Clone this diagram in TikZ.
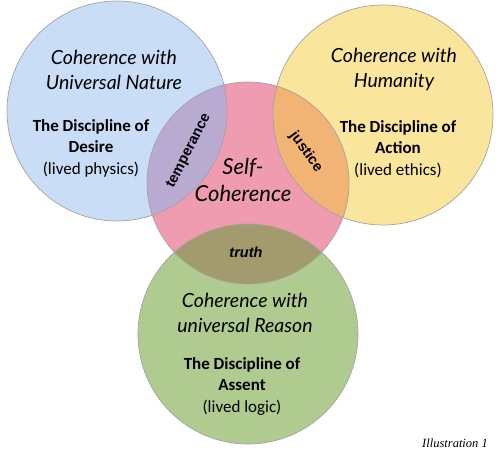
\documentclass[tikz,border=0pt]{standalone}
\usepackage{fontspec}
\setmainfont{Carlito}
\newfontfamily\handf{Lato}
\newfontfamily\arialf{Liberation Sans}
\newfontfamily\timesf{Liberation Serif}
\definecolor{bluef}{HTML}{C9DEF6}
\definecolor{pinkf}{HTML}{EF9BB0}
\definecolor{yellowf}{HTML}{FAE59C}
\definecolor{greenf}{HTML}{B0CB90}
\definecolor{purplef}{HTML}{B9AAD1}
\definecolor{orangef}{HTML}{F1B475}
\definecolor{olivef}{HTML}{A39B6E}
\definecolor{edgec}{HTML}{A3A3A3}
\tikzset{
  ring/.style={draw=edgec, line width=0.7pt},
  hand/.style={font=\handf\itshape\fontsize{19.5}{25}\selectfont, align=center, inner sep=0pt},
  self/.style={font=\handf\itshape\fontsize{22}{27}\selectfont, align=center, inner sep=0pt},
  disc/.style={font=\fontsize{17}{21.5}\selectfont, align=center, inner sep=0pt},
  virtue/.style={font=\arialf\bfseries\fontsize{14.5}{16}\selectfont, inner sep=0pt},
}
\begin{document}
\begin{tikzpicture}[x=1pt,y=-1pt]
\useasboundingbox (0,0) rectangle (500,470);
\coordinate (cb) at (117,111);
\coordinate (cy) at (383,115);
\coordinate (cp) at (248,183);
\coordinate (cg) at (248,334);
% fills
\fill[bluef] (cb) circle[radius=110pt];
\fill[yellowf] (cy) circle[radius=110pt];
\fill[greenf] (cg) circle[radius=110pt];
\fill[pinkf] (cp) circle[radius=101pt];
\begin{scope}
  \clip (cp) circle[radius=101pt];
  \fill[purplef] (cb) circle[radius=110pt];
  \fill[orangef] (cy) circle[radius=110pt];
  \fill[olivef] (cg) circle[radius=110pt];
\end{scope}
% outlines
\draw[ring] (cb) circle[radius=110pt];
\draw[ring] (cy) circle[radius=110pt];
\draw[ring] (cg) circle[radius=110pt];
\draw[ring] (cp) circle[radius=101pt];
% texts
\node[hand] (bt) at (114,70) {Coherence with\\Universal Nature};
\node[disc] (bd) at (91,148) {\textbf{The Discipline of}\\\textbf{Desire}\\(lived physics)};
\node[hand] (yt) at (394,69) {Coherence with\\Humanity};
\node[disc] (yd) at (398,149) {\textbf{The Discipline of}\\\textbf{Action}\\(lived ethics)};
\node[hand] (gt) at (245,313) {Coherence with\\universal Reason};
\node[disc] (gd) at (242,386) {\textbf{The Discipline of}\\\textbf{Assent}\\(lived logic)};
\node[self] (st) at (243,180) {Self-\\Coherence};
\node[virtue, rotate=63] (tv) at (189,151) {temperance};
\node[virtue, rotate=-54] (jv) at (306,152) {justice};
\node[virtue, font=\arialf\bfseries\itshape\fontsize{14.5}{16}\selectfont] (tr) at (246,252) {truth};
\node[font=\timesf\itshape\fontsize{12.5}{14}\selectfont, inner sep=0pt] (il) at (455,443) {Illustration 1};
\end{tikzpicture}
\end{document}
